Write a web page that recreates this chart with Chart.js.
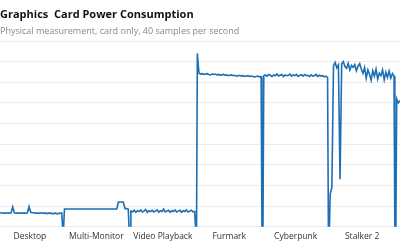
<!DOCTYPE html>
<html>
<head>
<meta charset="utf-8">
<script src="https://cdn.jsdelivr.net/npm/chart.js@4"></script>
<style>
  html, body { margin: 0; padding: 0; background: #fff; }
</style>
</head>
<body>
<canvas id="myChart" width="400" height="250"></canvas>
<script>
// section names under the x axis
var categories = ['Desktop', 'Multi-Monitor', 'Video Playback', 'Furmark', 'Cyberpunk', 'Stalker 2'];

// power readings in watts, one array per test
var desktop = [35,34,34,33,33,34,33,33,34,48,34,33,33,33,34,33,33,33,34,49,
               35,34,34,33,33,33,34,33,33,33,32,33,33,32,32,33,32,32,33,33];
var multiMonitor = [43,43,43,43,43,43,43,43,43,43,43,43,43,43,43,43,43,43,43,43,
                    43,43,43,43,43,43,43,43,43,43,43,43,43,60,60,60,60,44,44,43];
var videoPlayback = [38,36,40,35,39,37,41,36,38,42,35,39,37,40,36,38,41,35,39,37,
                     43,36,38,40,35,39,37,41,36,38,40,35,39,37,41,36,38,40,36,37];
var furmark = [420,372,370,371,369,370,371,369,368,370,369,370,368,369,367,368,369,367,368,366,
               367,368,366,367,365,366,367,365,366,364,365,366,364,365,364,363,364,365,363,364];
var cyberpunk = [366,368,365,369,367,364,368,366,370,365,367,369,364,368,366,367,370,365,368,366,
                 369,364,367,368,365,369,366,367,364,368,365,366,369,364,367,365,366,363,365,362];
var stalker2 = [80,95,390,398,385,392,115,395,400,388,384,396,380,391,386,393,378,389,395,382,
                372,386,360,380,370,355,378,365,382,358,372,366,380,356,374,362,377,360,371,365];
var nextTest = [310,300,305,298,303,300];

var series = [desktop, multiMonitor, videoPlayback, furmark, cyberpunk, stalker2, nextTest];

// y axis range and gridline step (watts)
var yMax = 450;
var yStep = 50;

// each test takes 100 units on the x axis, with a drop to zero between tests
var points = [];
series.forEach(function (vals, k) {
  var start = k * 100;
  if (k > 0) points.push({ x: start + 0.8, y: 0 });
  for (var j = 0; j < vals.length; j++) {
    points.push({ x: start + 2 + j * 96 / 39, y: vals[j] });
  }
  points.push({ x: start + 99.2, y: 0 });
});

var ctx = document.getElementById('myChart').getContext('2d');
var myChart = new Chart(ctx, {
  type: 'line',
  data: {
    datasets: [{
      data: points,
      borderColor: '#1c6fb4',
      borderWidth: 1.6,
      pointRadius: 0,
      tension: 0,
      fill: false
    }]
  },
  options: {
    responsive: false,
    animation: false,
    layout: { padding: { left: 0, right: 0, top: 8, bottom: 3 } },
    plugins: {
      legend: { display: false },
      tooltip: { enabled: false },
      title: {
        display: true,
        text: 'Graphics  Card Power Consumption',
        align: 'start',
        color: '#111',
        font: { family: 'Open Sans', size: 11, weight: 'bold' },
        padding: { top: 0, bottom: 5 }
      },
      subtitle: {
        display: true,
        text: 'Physical measurement, card only, 40 samples per second',
        align: 'start',
        color: '#888',
        font: { family: 'Open Sans', size: 9 },
        padding: { top: 0, bottom: 4 }
      }
    },
    scales: {
      x: {
        type: 'linear',
        min: 5,
        max: 607,
        grid: { display: false, drawTicks: false },
        border: { display: false },
        afterBuildTicks: function (axis) {
          axis.ticks = categories.map(function (c, i) { return { value: i * 100 + 50 }; });
        },
        ticks: {
          autoSkip: false,
          maxRotation: 0,
          padding: 5,
          color: '#333',
          font: { family: 'Open Sans', size: 8.5 },
          callback: function (value) {
            return categories[Math.round((value - 50) / 100)];
          }
        }
      },
      y: {
        min: 0,
        max: yMax,
        ticks: { display: false, stepSize: yStep },
        grid: { color: '#ececec', drawTicks: false },
        border: { display: false }
      }
    }
  }
});
</script>
</body>
</html>
